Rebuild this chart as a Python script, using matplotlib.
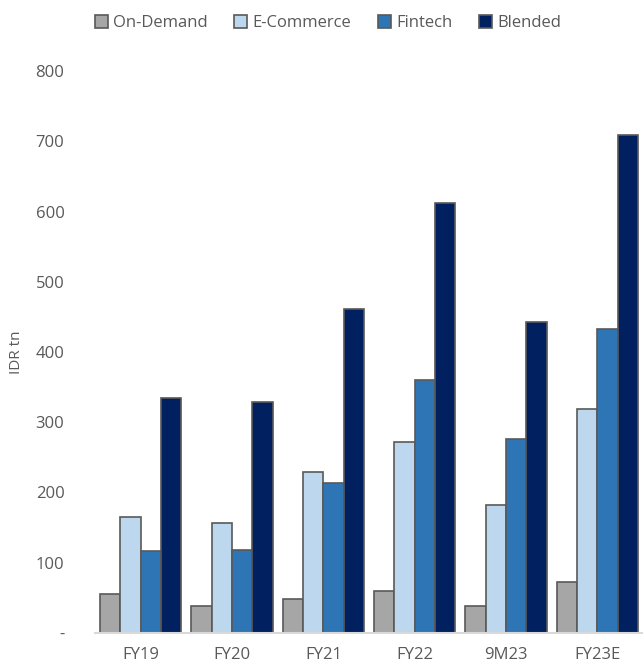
import numpy as np
import matplotlib
matplotlib.use('Agg')
import matplotlib.pyplot as plt
from matplotlib.patches import Patch
from matplotlib.ticker import FuncFormatter

plt.rcParams['font.family'] = ['Open Sans', 'DejaVu Sans']

periods = ['FY19', 'FY20', 'FY21', 'FY22', '9M23', 'FY23E']
on_demand = [55, 38, 48, 60, 39, 73]
e_commerce = [165, 157, 229, 272, 182, 319]
fintech = [117, 118, 214, 360, 276, 433]
blended = [334, 329, 461, 612, 443, 709]

series_names = ['On-Demand', 'E-Commerce', 'Fintech', 'Blended']
series_colors = ['#A6A6A6', '#BDD7EE', '#2E75B6', '#002060']
text_color = '#595959'
edge_color = '#595959'

fig = plt.figure(figsize=(6.43, 6.69), dpi=100)
ax = fig.add_axes([95 / 643, 36 / 669, 548 / 643, 562 / 669])

x = np.arange(len(periods))
bar_w = 0.222
all_series = [on_demand, e_commerce, fintech, blended]
for i, (vals, col) in enumerate(zip(all_series, series_colors)):
    ax.bar(x + (i - 1.5) * bar_w, vals, width=bar_w, color=col,
           edgecolor=edge_color, linewidth=1.2)

ax.set_xlim(-0.5, len(periods) - 0.5)
ax.set_ylim(0, 800)
ax.set_yticks(range(0, 801, 100))
ax.yaxis.set_major_formatter(FuncFormatter(lambda v, p: '-' if v == 0 else f'{int(v)}'))
ax.set_xticks(x)
ax.set_xticklabels(periods)

for s in ['top', 'right', 'left']:
    ax.spines[s].set_visible(False)
ax.spines['bottom'].set_color('#D9D9D9')
ax.spines['bottom'].set_linewidth(1.5)
ax.tick_params(axis='y', length=0, pad=22, labelsize=12, labelcolor=text_color)
ax.tick_params(axis='x', length=0, pad=10, labelsize=12, labelcolor=text_color)

ax.set_ylabel('IDR tn', fontsize=11, color=text_color, labelpad=8)

handles = [Patch(facecolor=c, edgecolor=edge_color, linewidth=1.2) for c in series_colors]
fig.legend(handles, series_names, loc='upper center', bbox_to_anchor=(0.51, 1.0),
           ncol=4, frameon=False, fontsize=12, labelcolor=text_color,
           handlelength=0.8, handleheight=0.8, handletextpad=0.3, columnspacing=1.6)

fig.savefig('out.png', dpi=100)
